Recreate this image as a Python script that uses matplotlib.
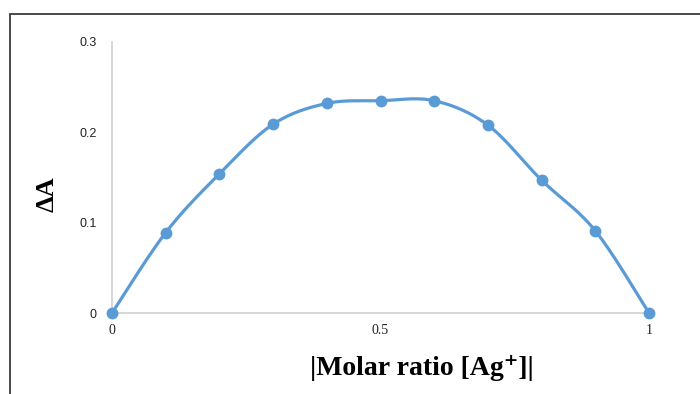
import matplotlib

matplotlib.use("Agg")
import matplotlib.pyplot as plt
import numpy as np
from matplotlib.patches import Rectangle

# Job's plot data: mole fraction of Ag+ vs absorbance change
mole_fraction = [0.0, 0.1, 0.2, 0.3, 0.4, 0.5, 0.6, 0.7, 0.8, 0.9, 1.0]
delta_a = [0.0, 0.089, 0.154, 0.209, 0.232, 0.235, 0.235, 0.208, 0.147, 0.091, 0.0]
x_ticks = [0, 0.5, 1]
x_ticklabels = ["0", "0.5", "1"]
y_ticks = [0, 0.1, 0.2, 0.3]
y_ticklabels = ["0", "0.1", "0.2", "0.3"]

BLUE = "#5B9BD5"


def smooth_curve(x, y, n=30):
    """Bezier smoothing through the points (spreadsheet-style smoothed line)."""
    x = np.asarray(x, float)
    y = np.asarray(y, float)
    px = np.concatenate([[x[0]], x, [x[-1]]])
    py = np.concatenate([[y[0]], y, [y[-1]]])
    xs, ys = [], []
    t = np.linspace(0, 1, n)
    for i in range(1, len(px) - 2):
        p0 = np.array([px[i], py[i]])
        p3 = np.array([px[i + 1], py[i + 1]])
        p1 = p0 + (np.array([px[i + 1], py[i + 1]]) - np.array([px[i - 1], py[i - 1]])) / 6
        p2 = p3 - (np.array([px[i + 2], py[i + 2]]) - np.array([px[i], py[i]])) / 6
        b = ((1 - t) ** 3)[:, None] * p0 + (3 * (1 - t) ** 2 * t)[:, None] * p1 \
            + (3 * (1 - t) * t ** 2)[:, None] * p2 + (t ** 3)[:, None] * p3
        xs.extend(b[:, 0])
        ys.extend(b[:, 1])
    return np.array(xs), np.array(ys)


fig = plt.figure(figsize=(7, 3.94), dpi=100)
fig.patches.append(Rectangle((10 / 700, -0.1), 1.2, 1 - 14 / 394 + 0.1,
                             transform=fig.transFigure, fill=False,
                             edgecolor="#3a3a3a", lw=1.3))

ax = fig.add_axes([112 / 700, 1 - 313 / 394, 537 / 700, 271 / 394])
sx, sy = smooth_curve(mole_fraction, delta_a)
ax.plot(sx, sy, color=BLUE, lw=2.3, clip_on=False, solid_capstyle="round")
ax.plot(mole_fraction, delta_a, "o", color=BLUE, ms=7.5, clip_on=False)

ax.set_xlim(0, 1)
ax.set_ylim(0, 0.3)
for side in ("top", "right"):
    ax.spines[side].set_visible(False)
for side in ("left", "bottom"):
    ax.spines[side].set_color("#d0d0d0")
    ax.spines[side].set_linewidth(1.2)
ax.spines["left"].set_zorder(0)
ax.spines["bottom"].set_zorder(0)

ax.set_xticks(x_ticks)
ax.set_xticklabels(x_ticklabels, family="Liberation Serif", fontsize=10, color="#222222")
ax.set_yticks(y_ticks)
ax.set_yticklabels(y_ticklabels, family="Liberation Sans", fontsize=9, color="#222222")
ax.tick_params(axis="both", length=0)
ax.tick_params(axis="x", pad=8)
ax.tick_params(axis="y", pad=11)

serif = ["Liberation Serif", "DejaVu Serif"]
ax.set_ylabel("ΔA", family=serif, fontweight="bold", fontsize=19, labelpad=10)
ax.yaxis.set_label_coords(-0.099, 0.44)
ax.set_xlabel("|Molar ratio [Ag⁺]|", family=serif,
              fontweight="bold", fontsize=20, labelpad=14)
ax.xaxis.set_label_coords(0.577, -0.155)

fig.savefig("out.png", dpi=100)
